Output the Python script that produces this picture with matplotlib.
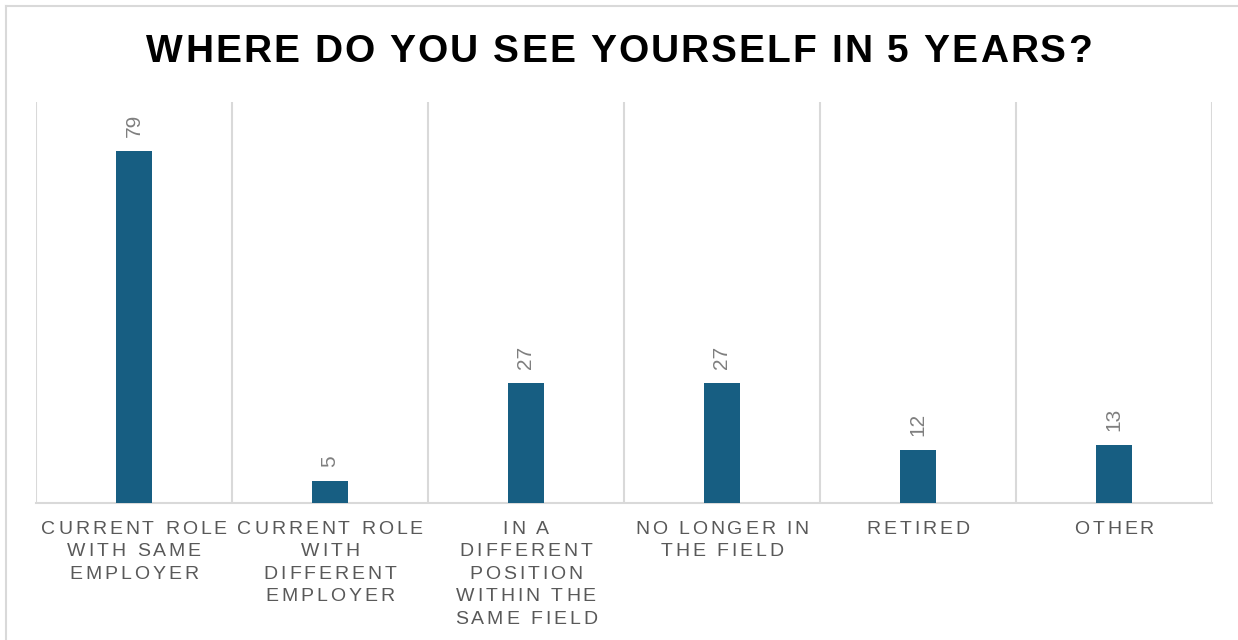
import matplotlib.pyplot as plt
from matplotlib.font_manager import FontProperties
from matplotlib.textpath import TextToPath
from matplotlib.lines import Line2D

categories = [
    ['CURRENT ROLE', 'WITH SAME', 'EMPLOYER'],
    ['CURRENT ROLE', 'WITH', 'DIFFERENT', 'EMPLOYER'],
    ['IN A', 'DIFFERENT', 'POSITION', 'WITHIN THE', 'SAME FIELD'],
    ['NO LONGER IN', 'THE FIELD'],
    ['RETIRED'],
    ['OTHER'],
]
counts = [79, 5, 27, 27, 12, 13]
title = 'WHERE DO YOU SEE YOURSELF IN 5 YEARS?'

BAR = '#175E82'
GRID = '#D9D9D9'
LABEL = '#595959'
VALUE = '#7F7F7F'
FONT = 'Liberation Sans'

t2p = TextToPath()


def advance(ch, prop):
    # width taken by one character, measured between two H's
    w1 = t2p.get_text_width_height_descent('H' + ch + 'H', prop, ismath=False)[0]
    w0 = t2p.get_text_width_height_descent('HH', prop, ismath=False)[0]
    return w1 - w0


def spaced(ax, s, xy, xycoords, dy, size, spacing, color, weight='normal'):
    # draws a centred line of text with extra tracking between letters
    prop = FontProperties(family=FONT, size=size, weight=weight)
    widths = [advance(c, prop) for c in s]
    total = sum(widths) + spacing * (len(s) - 1)
    x = -total / 2
    for c, w in zip(s, widths):
        if c != ' ':
            ax.annotate(c, xy=xy, xycoords=xycoords, xytext=(x, dy),
                        textcoords='offset points', ha='left', va='baseline',
                        fontproperties=prop, color=color, annotation_clip=False)
        x += w + spacing


fig = plt.figure(figsize=(12.38, 6.4), dpi=100)
ax = fig.add_axes([36 / 1238, 1 - 503 / 640, 1176 / 1238, 401 / 640])

xs = range(len(counts))
ax.bar(xs, counts, width=0.184, color=BAR, zorder=3)
ax.set_xlim(-0.5, len(counts) - 0.5)
ax.set_ylim(0, 90)

for b in range(len(counts) + 1):
    ax.axvline(b - 0.5, color=GRID, lw=1.5, zorder=1)
for side in ['top', 'left', 'right']:
    ax.spines[side].set_visible(False)
ax.spines['bottom'].set_color(GRID)
ax.spines['bottom'].set_linewidth(1.5)
ax.set_xticks([])
ax.set_yticks([])

for i, v in enumerate(counts):
    ax.annotate(str(v), xy=(i, v), xytext=(0, 10), textcoords='offset points',
                rotation=90, ha='center', va='bottom', fontsize=15,
                family=FONT, color=VALUE)

for i, lines in enumerate(categories):
    for k, line in enumerate(lines):
        spaced(ax, line, (i, 0), ('data', 'axes fraction'),
               -22.3 - 16.2 * k, 14, 2.1, LABEL)

spaced(ax, title, (0.5, 1 - 62 / 640), 'figure fraction', 0, 28, 1.5,
       'black', weight='bold')

# thin frame along the top and left edges
fig.add_artist(Line2D([6 / 1238, 1], [1 - 6 / 640, 1 - 6 / 640],
                      transform=fig.transFigure, color=GRID, lw=1.5))
fig.add_artist(Line2D([6 / 1238, 6 / 1238], [0, 1 - 6 / 640],
                      transform=fig.transFigure, color=GRID, lw=1.5))

fig.savefig('out.png', dpi=100)
